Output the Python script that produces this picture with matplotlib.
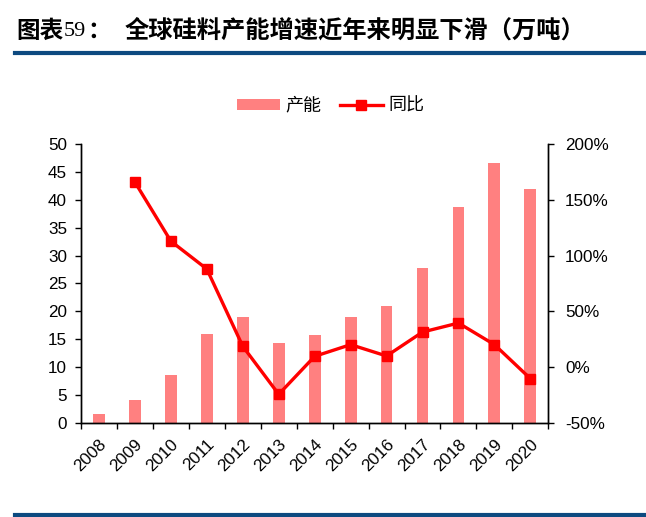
import matplotlib
matplotlib.use("Agg")
import matplotlib.pyplot as plt
import numpy as np
from matplotlib.lines import Line2D
from matplotlib.patches import Patch

plt.rcParams['font.family'] = ['Liberation Sans', 'Noto Sans CJK SC', 'DejaVu Sans']

years = ['2008', '2009', '2010', '2011', '2012', '2013', '2014', '2015', '2016', '2017', '2018', '2019', '2020']
capacity = [1.5, 4.0, 8.5, 16.0, 19.0, 14.4, 15.75, 18.9, 21.0, 27.7, 38.7, 46.6, 42.0]
growth = [np.nan, 166, 113, 88, 18.6, -24.5, 9.6, 20.1, 9.9, 31.4, 39.5, 20.1, -10.4]

fig = plt.figure(figsize=(6.46, 5.17), dpi=100)
ax = fig.add_axes([0.1254, 0.1824, 0.7234, 0.5385])
ax2 = ax.twinx()

x = np.arange(len(years))
bar_color = '#FF8080'
line_color = '#FF0000'
ax.bar(x, capacity, width=0.33, color=bar_color, zorder=2)
ax2.plot(x, growth, color=line_color, lw=2.4, marker='s', markersize=7.5, zorder=3)

ax.set_xlim(-0.5, len(years) - 0.5)
ax.set_ylim(0, 50)
ax.set_yticks(np.arange(0, 51, 5))
ax2.set_ylim(-50, 200)
ax2.set_yticks(np.arange(-50, 201, 50))
ax2.set_yticklabels([f'{v}%' for v in range(-50, 201, 50)])

ax.set_xticks(x)
ax.set_xticklabels(years, rotation=45, ha='right', rotation_mode='anchor')
ax.set_xticks(np.arange(-0.5, len(years), 1), minor=True)
ax.tick_params(axis='x', which='major', length=0, pad=10, labelsize=12.3)
ax.tick_params(axis='x', which='minor', length=4, width=1, direction='out')
ax.tick_params(axis='y', length=4, width=1, direction='out', labelsize=12.3, pad=6)
ax2.tick_params(axis='y', length=4, width=1, direction='out', labelsize=12.3, pad=8)

for a in (ax, ax2):
    a.spines['top'].set_visible(False)
    for s in ('left', 'right', 'bottom'):
        a.spines[s].set_linewidth(1.0)
        a.spines[s].set_color('black')
ax.set_zorder(1)
ax2.set_zorder(2)
ax2.patch.set_visible(False)

handles = [Patch(facecolor=bar_color, edgecolor='none'),
           Line2D([0], [0], color=line_color, lw=2.4, marker='s', markersize=7.5)]
fig.legend(handles, ['产能', '同比'], loc='center', bbox_to_anchor=(0.512, 0.7955),
           ncol=2, frameon=False, handlelength=2.4, handleheight=0.55,
           columnspacing=1.0, handletextpad=0.3,
           prop={'family': ['Noto Sans CJK SC'], 'size': 13})

ty = 1 - 31/517
fig.text(16/646, ty, '图表', fontsize=17, fontweight='bold',
         family=['Noto Sans CJK SC'], va='center', ha='left')
fig.text(64/646, ty, '59', fontsize=16, family=['Liberation Serif'],
         va='center', ha='left')
fig.text(87/646, ty, '：', fontsize=17, fontweight='bold',
         family=['Noto Sans CJK SC'], va='center', ha='left')
fig.text(125/646, ty, '全球硅料产能增速近年来明显下滑（万吨）', fontsize=17.5, fontweight='bold',
         family=['Noto Sans CJK SC'], va='center', ha='left')

blue = '#0D4A80'
fig.add_artist(Line2D([15/646, 1.0], [1 - 53/517, 1 - 53/517], color=blue, lw=3.0,
                      transform=fig.transFigure))
fig.add_artist(Line2D([15/646, 1.0], [1 - 515/517, 1 - 515/517], color=blue, lw=3.0,
                      transform=fig.transFigure))

fig.savefig('out.png', dpi=100)
